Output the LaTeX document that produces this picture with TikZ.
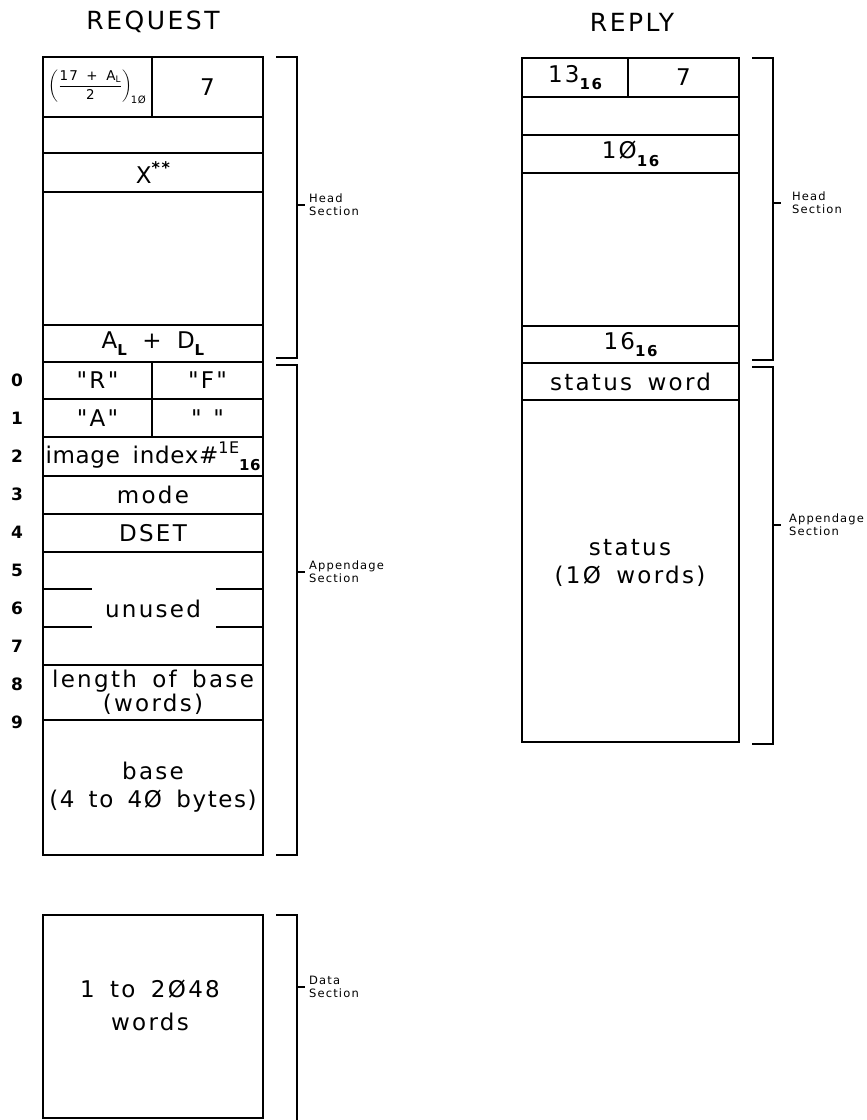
\documentclass[tikz,border=0pt]{standalone}
\usepackage{amsmath}
\usepackage{fontspec}
\setmainfont{DejaVu Sans}[LetterSpace=10, WordSpace=1.6, Ligatures=TeXOff]
\usetikzlibrary{positioning}
\newcommand{\lowsub}[1]{\raisebox{-0.32em}{\fontsize{15}{15}\selectfont\bfseries #1}}
\tikzset{
  field/.style  ={rectangle, draw=black, line width=1.5pt, minimum width=220pt,
                  inner sep=0pt, outer sep=0pt, text centered, align=center,
                  font=\fontsize{23}{28}\selectfont},
  rfield/.style ={field, minimum width=217pt},
  title/.style  ={font=\fontsize{25}{30}\selectfont},
  rownum/.style ={font=\fontsize{17}{18}\selectfont\bfseries},
  seclbl/.style ={anchor=west, align=left, inner sep=0pt,
                  font=\fontsize{11.5}{13}\selectfont},
  brace/.style  ={line width=1.5pt},
}

\begin{document}
\begin{tikzpicture}[x=1pt, y=-1pt]
  \useasboundingbox (0,0) rectangle (867,1120);

  % titles
  \node[title] (treq) at (153,22) {REQUEST};
  \node[title] (trep) at (632,22) {REPLY};

  % request block
  \node[field, anchor=north west, minimum width=109pt, minimum height=60pt] (rqlen) at (43,57)
    {\resizebox{98pt}{!}{\fontsize{12}{14}\selectfont\addfontfeature{LetterSpace=8}%
     $\left(\dfrac{\text{17 + A\textsubscript{L}}}{\text{2}}\right)_{\!\text{\fontsize{9}{9}\selectfont 1Ø}}$}};
  \node[field, right=0pt of rqlen, minimum width=111pt, minimum height=60pt] (rqcode) {7};
  \node[field, below=0pt of rqlen.south west, anchor=north west, minimum height=36pt] (rqb1) {};
  \node[field, below=0pt of rqb1, minimum height=39pt] (rqx)
    {X\raisebox{0.45em}{\fontsize{16}{16}\selectfont\bfseries **}};
  \node[field, below=0pt of rqx, minimum height=133pt] (rqb2) {};
  \node[field, below=0pt of rqb2, minimum height=37pt] (rqald) {A\lowsub{L} + D\lowsub{L}};
  \node[field, below=0pt of rqald.south west, anchor=north west, minimum width=109pt, minimum height=37pt] (rqr) {"R"};
  \node[field, right=0pt of rqr, minimum width=111pt, minimum height=37pt] (rqf) {"F"};
  \node[field, below=0pt of rqr.south west, anchor=north west, minimum width=109pt, minimum height=38pt] (rqa) {"A"};
  \node[field, right=0pt of rqa, minimum width=111pt, minimum height=38pt] (rqsp) {"\enspace"};
  \node[field, below=0pt of rqa.south west, anchor=north west, minimum height=39pt] (rqimg)
    {\addfontfeature{LetterSpace=3}image index\#\raisebox{0.4em}{\fontsize{16}{16}\selectfont 1E}\lowsub{16}};
  \node[field, below=0pt of rqimg, minimum height=38pt] (rqmode) {mode};
  \node[field, below=0pt of rqmode, minimum height=38pt] (rqdset) {DSET};
  \node[field, below=0pt of rqdset, minimum height=113pt] (rqunused) {unused};
  \node[field, below=0pt of rqunused, minimum height=55pt] (rqlob) {length of base\\[-4pt](words)};
  \node[field, below=0pt of rqlob, minimum height=135pt] (rqbase)
    {base\\{\addfontfeature{LetterSpace=7}(4 to 4Ø bytes)}};

  \draw[brace] (43,589) -- (92,589);
  \draw[brace] (43,627) -- (92,627);
  \draw[brace] (216,589) -- (263,589);
  \draw[brace] (216,627) -- (263,627);

  % word numbers
  \foreach \i in {0,...,9}
    \node[rownum] (num\i) at (17,{380+38*\i}) {\i};

  % data block
  \node[field, anchor=north west, minimum height=203pt] (rqdata) at (43,915) {};
  \node[field, draw=none, minimum height=0pt, minimum width=0pt] (rqdtxt) at (150,1005)
    {1 to 2Ø48\\[5pt]words};

  % reply block
  \node[rfield, anchor=north west, minimum width=106pt, minimum height=39pt] (rplen) at (522,58)
    {13\lowsub{16}};
  \node[rfield, right=0pt of rplen, minimum width=111pt, minimum height=39pt] (rpcode) {7};
  \node[rfield, below=0pt of rplen.south west, anchor=north west, minimum height=38pt] (rpb1) {};
  \node[rfield, below=0pt of rpb1, minimum height=38pt] (rpx) {1Ø\lowsub{16}};
  \node[rfield, below=0pt of rpx, minimum height=153pt] (rpb2) {};
  \node[rfield, below=0pt of rpb2, minimum height=37pt] (rpald) {16\lowsub{16}};
  \node[rfield, below=0pt of rpald, minimum height=37pt] (rpsw) {status word};
  \node[rfield, below=0pt of rpsw, minimum height=342pt] (rpst) {};
  \node[field, draw=none, minimum height=0pt, minimum width=0pt] (rpsttxt) at (630,563)
    {status\\(1Ø words)};

  % section brackets
  \draw[brace] (276,57) -- (297,57) -- (297,358) -- (276,358);
  \draw[brace] (297,205) -- (305,205);
  \node[seclbl] (rqhead) at (309,205) {Head\\Section};
  \draw[brace] (276,365) -- (297,365) -- (297,855) -- (276,855);
  \draw[brace] (297,572) -- (305,572);
  \node[seclbl] (rqapp) at (309,572) {Appendage\\Section};
  \draw[brace] (276,915) -- (297,915) -- (297,1120);
  \draw[brace] (297,987) -- (305,987);
  \node[seclbl] (rqdsec) at (309,987) {Data\\Section};

  \draw[brace] (752,58) -- (773,58) -- (773,360) -- (752,360);
  \draw[brace] (773,203) -- (781,203);
  \node[seclbl] (rphead) at (792,203) {Head\\Section};
  \draw[brace] (752,367) -- (773,367) -- (773,744) -- (752,744);
  \draw[brace] (773,525) -- (781,525);
  \node[seclbl] (rpapp) at (789,525) {Appendage\\Section};

\end{tikzpicture}
\end{document}
